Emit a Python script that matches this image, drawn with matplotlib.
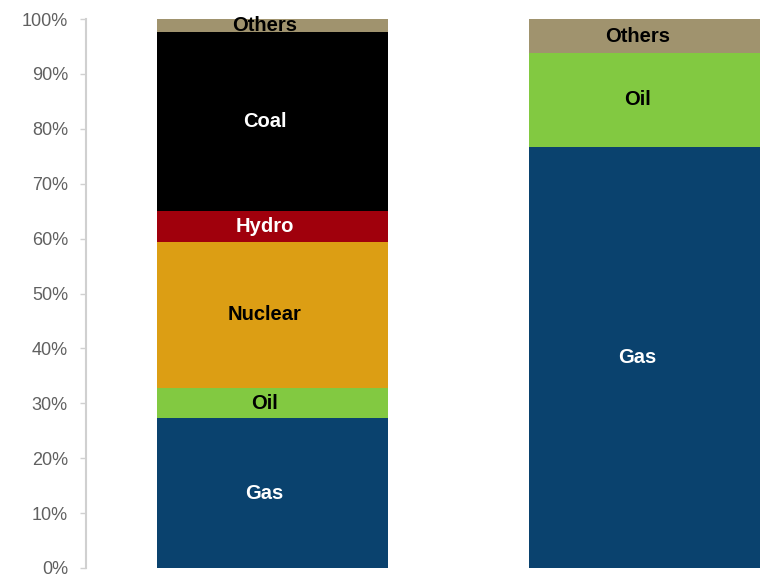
import numpy as np
import matplotlib.pyplot as plt
from matplotlib.ticker import PercentFormatter

plt.rcParams['font.family'] = ['Liberation Sans', 'DejaVu Sans']

# generation mix, share of total (%)
sources = ["Gas", "Oil", "Nuclear", "Hydro", "Coal", "Others"]
mix_left = [27.3, 5.5, 26.6, 5.6, 32.6, 2.4]
mix_right = [76.7, 17.1, 0.0, 0.0, 0.0, 6.2]

colors = {"Gas": "#0a426e", "Oil": "#82c941", "Nuclear": "#dc9e14",
          "Hydro": "#a0000c", "Coal": "#000000", "Others": "#a0936e"}
text_colors = {"Gas": "white", "Oil": "black", "Nuclear": "black",
               "Hydro": "white", "Coal": "white", "Others": "black"}

fig = plt.figure(figsize=(7.63, 5.77), dpi=100)
ax = fig.add_axes([86 / 763, 9 / 577, 1 - 86 / 763, 549 / 577])

xpos = [0, 1]
width = 0.62
bottoms = np.zeros(2)
for i, src in enumerate(sources):
    vals = np.array([mix_left[i], mix_right[i]]) / 100.0
    ax.bar(xpos, vals, width, bottom=bottoms, color=colors[src], linewidth=0)
    for x, v, b in zip(xpos, vals, bottoms):
        if v > 0:
            ax.text(x - 0.02, b + v / 2, src, ha='center', va='center',
                    color=text_colors[src], fontsize=14.5, fontweight='bold')
    bottoms += vals

ax.set_xlim(-0.5, 1.318)
ax.set_ylim(0, 1.0)
ax.set_yticks(np.arange(0, 1.01, 0.1))
ax.yaxis.set_major_formatter(PercentFormatter(1.0, decimals=0))
ax.tick_params(axis='y', colors='#d0d0d0', labelcolor='#606060',
               labelsize=13, length=4.5, width=1, pad=8.5)
ax.set_xticks([])
for side in ['top', 'right', 'bottom']:
    ax.spines[side].set_visible(False)
ax.spines['left'].set_color('#d0d0d0')
ax.spines['left'].set_linewidth(1.5)

fig.savefig("out.png", dpi=100)
